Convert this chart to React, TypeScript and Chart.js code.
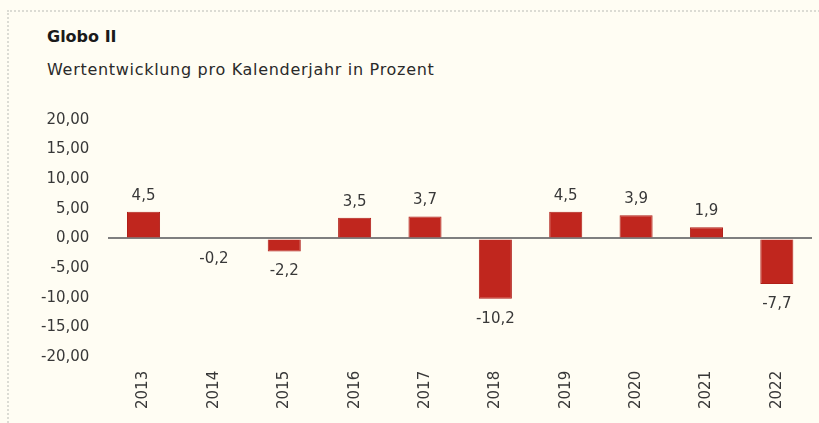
import React, { useEffect, useRef } from "react";
import { Chart, registerables } from "chart.js";

Chart.register(...registerables);

const title = "Globo II";
const subtitle = "Wertentwicklung pro Kalenderjahr in Prozent";
const years = ["2013", "2014", "2015", "2016", "2017", "2018", "2019", "2020", "2021", "2022"];
const returns = [4.5, -0.2, -2.2, 3.5, 3.7, -10.2, 4.5, 3.9, 1.9, -7.7];
const yMin = -20;
const yMax = 20;
const yStep = 5;

const FONT = "'DejaVu Sans', Verdana, sans-serif";
const TEXT = "#383838";
const BAR = "#c0261e";

const fmt = (v: number, d: number) => v.toFixed(d).replace(".", ",");

const valueLabels = {
  id: "valueLabels",
  afterDatasetsDraw(chart: any) {
    const ctx = chart.ctx;
    const meta = chart.getDatasetMeta(0);
    ctx.save();
    ctx.font = `15px ${FONT}`;
    ctx.fillStyle = TEXT;
    ctx.textAlign = "center";
    ctx.textBaseline = "middle";
    meta.data.forEach((bar: any, i: number) => {
      const v = returns[i];
      const y = v >= 0 ? bar.y - 16 : bar.y + 20;
      ctx.fillText(fmt(v, 1), bar.x, y);
    });
    ctx.restore();
  },
};

export default function App() {
  const ref = useRef<HTMLCanvasElement>(null);
  useEffect(() => {
    const chart = new Chart(ref.current!, {
      type: "bar",
      data: {
        labels: years,
        datasets: [
          {
            data: returns,
            backgroundColor: BAR,
            borderColor: "#b01f18",
            borderWidth: 1,
            categoryPercentage: 1,
            barPercentage: 0.47,
          },
        ],
      },
      options: {
        animation: false,
        responsive: false,
        maintainAspectRatio: false,
        layout: { padding: { top: 120, left: 22, right: 7, bottom: 0 } },
        plugins: {
          legend: { display: false },
          tooltip: { enabled: false },
          title: { display: false },
        },
        scales: {
          x: {
            grid: { display: false, drawTicks: false },
            border: { display: false },
            ticks: {
              color: TEXT,
              font: { family: FONT, size: 15 },
              minRotation: 90,
              maxRotation: 90,
              padding: 14,
            },
          },
          y: {
            min: yMin,
            max: yMax,
            border: { display: false },
            grid: {
              drawTicks: false,
              color: (c: any) => (c.tick && c.tick.value === 0 ? "#7f7f7f" : "rgba(0,0,0,0)"),
              lineWidth: (c: any) => (c.tick && c.tick.value === 0 ? 2 : 0),
            },
            ticks: {
              stepSize: yStep,
              color: TEXT,
              font: { family: FONT, size: 15 },
              padding: 19,
              callback: (v: any) => fmt(Number(v), 2),
            },
          },
        },
      },
      plugins: [valueLabels],
    });
    return () => chart.destroy();
  }, []);

  return (
    <div
      style={{
        position: "fixed",
        left: 0,
        top: 0,
        width: 819,
        height: 423,
        background: "#fffdf3",
        overflow: "hidden",
      }}
    >
      <div
        style={{
          position: "absolute",
          left: 7,
          top: 10,
          width: 830,
          height: 430,
          borderTop: "2px dotted #dcdcd4",
          borderLeft: "2px dotted #dcdcd4",
        }}
      />
      <div
        style={{
          position: "absolute",
          left: 47,
          top: 27,
          fontFamily: FONT,
          fontWeight: "bold",
          fontSize: 16,
          color: "#1a1a1a",
          lineHeight: "20px",
        }}
      >
        {title}
      </div>
      <div
        style={{
          position: "absolute",
          left: 47,
          top: 59,
          fontFamily: FONT,
          fontSize: 16,
          letterSpacing: "0.7px",
          color: "#2a2a2a",
          lineHeight: "22px",
        }}
      >
        {subtitle}
      </div>
      <canvas ref={ref} width={819} height={423} style={{ position: "absolute", left: 0, top: 0 }} />
    </div>
  );
}
